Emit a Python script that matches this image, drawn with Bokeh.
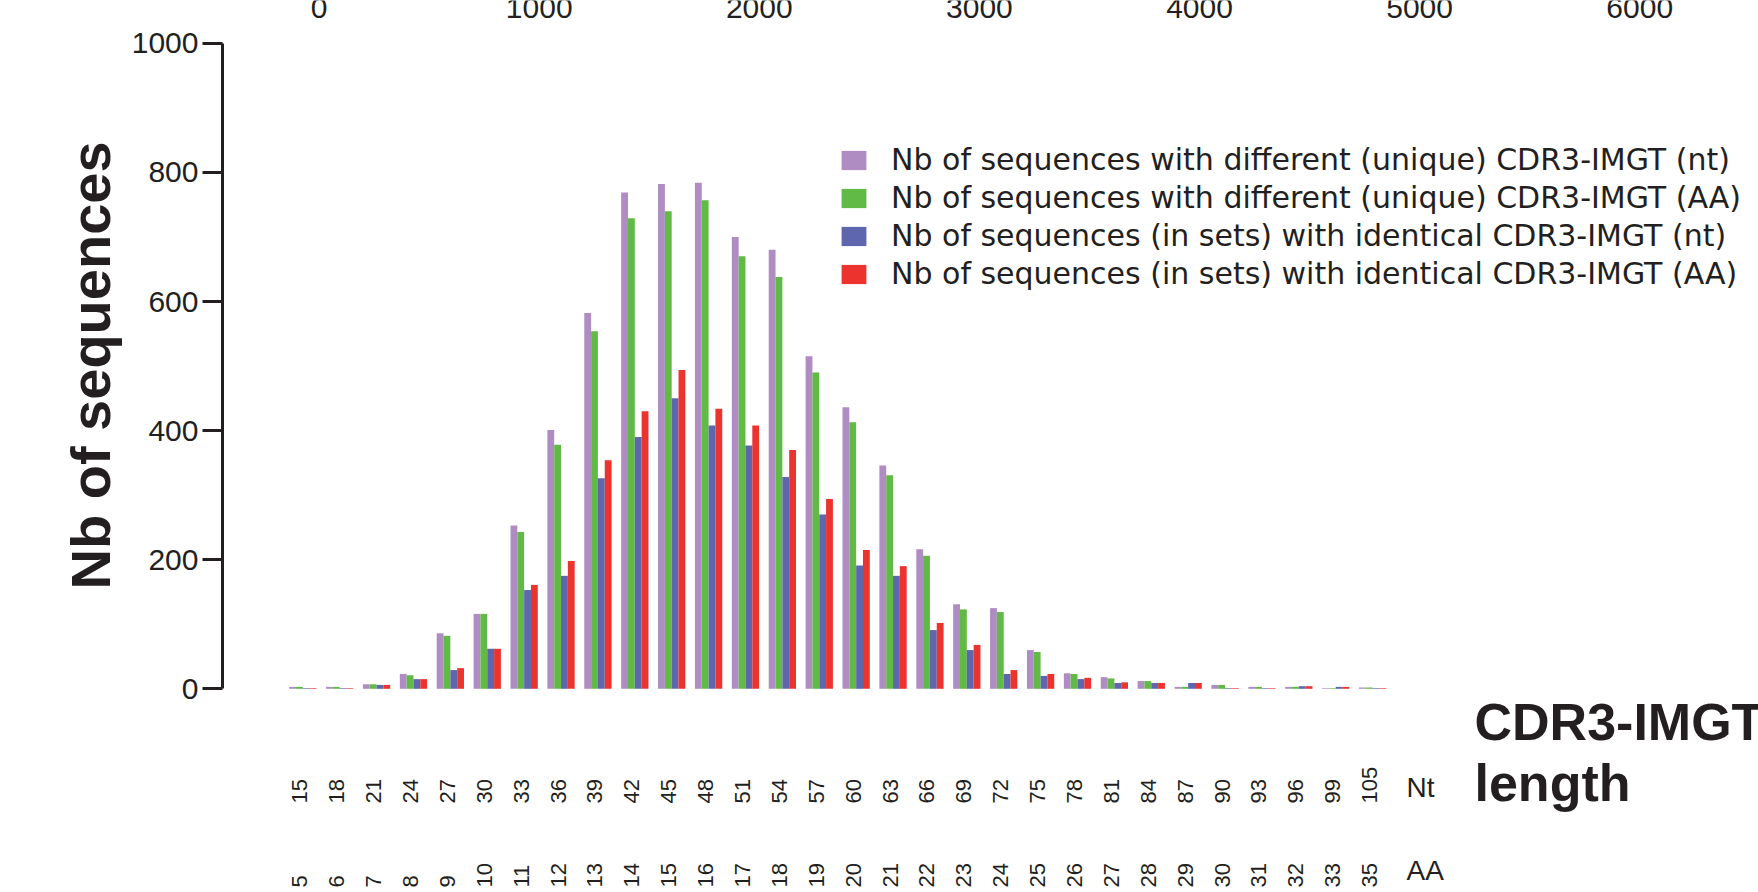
import numpy as np
from bokeh.plotting import figure
from bokeh.models import Range1d, FixedTicker, Legend, LegendItem, Title
from bokeh.core.properties import value
from bokeh.embed import file_html
from bokeh.resources import INLINE

# ---------------- data ----------------
nt_lengths = ["15", "18", "21", "24", "27", "30", "33", "36", "39", "42",
              "45", "48", "51", "54", "57", "60", "63", "66", "69", "72",
              "75", "78", "81", "84", "87", "90", "93", "96", "99", "105"]
aa_lengths = ["5", "6", "7", "8", "9", "10", "11", "12", "13", "14",
              "15", "16", "17", "18", "19", "20", "21", "22", "23", "24",
              "25", "26", "27", "28", "29", "30", "31", "32", "33", "35"]
unique_nt = [3, 3, 7, 23, 86, 116, 253, 401, 582, 769,
             782, 784, 700, 680, 515, 436, 346, 216, 131, 125,
             60, 24, 18, 12, 3, 6, 3, 3, 1, 2]
unique_aa = [3, 3, 7, 21, 82, 116, 243, 378, 554, 729,
             740, 757, 670, 638, 490, 413, 331, 206, 123, 119,
             57, 23, 16, 12, 3, 6, 3, 3, 1, 2]
identical_nt = [1, 1, 6, 15, 29, 62, 153, 175, 326, 390,
                450, 408, 377, 328, 270, 191, 175, 91, 60, 23,
                20, 15, 9, 9, 9, 1, 1, 4, 3, 1]
identical_aa = [1, 1, 6, 15, 32, 62, 161, 198, 354, 430,
                494, 434, 408, 370, 294, 215, 190, 102, 68, 29,
                23, 17, 10, 9, 9, 1, 1, 4, 3, 1]
series_labels = [
    "Nb of sequences with different (unique) CDR3-IMGT (nt)",
    "Nb of sequences with different (unique) CDR3-IMGT (AA)",
    "Nb of sequences (in sets) with identical CDR3-IMGT (nt)",
    "Nb of sequences (in sets) with identical CDR3-IMGT (AA)",
]
y_ticks = [0, 200, 400, 600, 800, 1000]
top_ticks = [0, 1000, 2000, 3000, 4000, 5000, 6000]
top_tick_labels = ["0", "1000", "2000", "3000", "4000", "5000", "6000"]

# ---------------- layout / style ----------------
W, H = 1758, 892
FRAME_LEFT = 222
GROUP0_PX = 302.3
GROUP_PX = 36.89
ZERO_PX = 688.3
PX_PER_UNIT = 0.6455
TOP0_PX = 318.6
TOP_PX_PER_UNIT = 0.2201
BAR_W = 0.185
COLORS = ["#AF8DC3", "#62BA46", "#5E67AE", "#EC332E"]
INK = "#231f20"
FONT = "Liberation Sans"


def x_at(px):
    return (px - GROUP0_PX) / GROUP_PX


def y_at(py):
    return (ZERO_PX - py) / PX_PER_UNIT


p = figure(width=W, height=H,
           x_range=Range1d(x_at(FRAME_LEFT), x_at(W)),
           y_range=Range1d(y_at(H), y_at(0)),
           output_backend="svg", toolbar_location=None,
           x_axis_location=None,
           min_border_left=FRAME_LEFT, min_border_right=0,
           min_border_top=0, min_border_bottom=0,
           outline_line_color=None, background_fill_color="white",
           border_fill_color="white")
p.extra_x_ranges = {"top": Range1d((FRAME_LEFT - TOP0_PX) / TOP_PX_PER_UNIT,
                                   (W - TOP0_PX) / TOP_PX_PER_UNIT)}
p.grid.visible = False

ax = p.yaxis[0]
ax.ticker = FixedTicker(ticks=y_ticks)
ax.bounds = (0, 1000)
ax.axis_line_width = 3
ax.axis_line_color = INK
ax.major_tick_line_width = 3
ax.major_tick_line_color = INK
ax.major_tick_out = 20
ax.major_tick_in = 0
ax.minor_tick_out = 0
ax.minor_tick_in = 0
ax.major_label_standoff = 4
ax.major_label_text_font = FONT
ax.major_label_text_font_size = "30px"
ax.major_label_text_color = INK

# y title, in the left panel; starts 303 px above the bottom edge
p.add_layout(Title(text="Nb of sequences", align="left", offset=303, standoff=14,
                   text_font=FONT, text_font_style="bold", text_font_size="56px",
                   text_color=INK), "left")

# bars
idx = np.arange(len(nt_lengths))
series = [unique_nt, unique_aa, identical_nt, identical_aa]
renderers = []
for k, (vals, col) in enumerate(zip(series, COLORS)):
    r = p.vbar(x=idx + (k - 1.5) * BAR_W, top=vals, bottom=0, width=BAR_W,
               fill_color=col, line_color=None)
    renderers.append(r)

# legend
legend = Legend(items=[LegendItem(label=lab, renderers=[r])
                       for lab, r in zip(series_labels, renderers)],
                location=(616, 601), orientation="vertical",
                glyph_width=31, glyph_height=24, label_standoff=22,
                spacing=3, padding=0, margin=0,
                border_line_color=None, background_fill_alpha=0,
                label_text_font="DejaVu Sans", label_text_font_size="30px",
                label_text_color=INK)
p.add_layout(legend)

# top scale labels (partly cut by the top edge, as in the source figure)
p.text(x=top_ticks, y=[y_at(7)] * len(top_ticks), text=top_tick_labels,
       x_range_name="top", text_align="center", text_baseline="middle",
       text_font=value(FONT), text_font_size="30px", text_color=INK)

# category labels (nt and AA lengths)
p.text(x=idx, y=[y_at(803)] * len(idx), text=nt_lengths, angle=np.pi / 2,
       text_align="left", text_baseline="middle", x_offset=-3,
       text_font=value(FONT), text_font_size="22px", text_color=INK)
p.text(x=idx, y=[y_at(887)] * len(idx), text=aa_lengths, angle=np.pi / 2,
       text_align="left", text_baseline="middle", x_offset=-3,
       text_font=value(FONT), text_font_size="22px", text_color=INK)
p.text(x=[x_at(1406), x_at(1406)], y=[y_at(787.4), y_at(870)], text=["Nt", "AA"],
       text_align="left", text_baseline="middle",
       text_font=value(FONT), text_font_size="28px", text_color=INK)

# x title
p.text(x=[x_at(1474), x_at(1474)], y=[y_at(721.5), y_at(782)],
       text=["CDR3-IMGT", "length"], text_align="left", text_baseline="middle",
       text_font=value(FONT), text_font_style="bold", text_font_size="52px",
       text_color=INK)

open("out.html", "w").write(file_html(p, INLINE))
